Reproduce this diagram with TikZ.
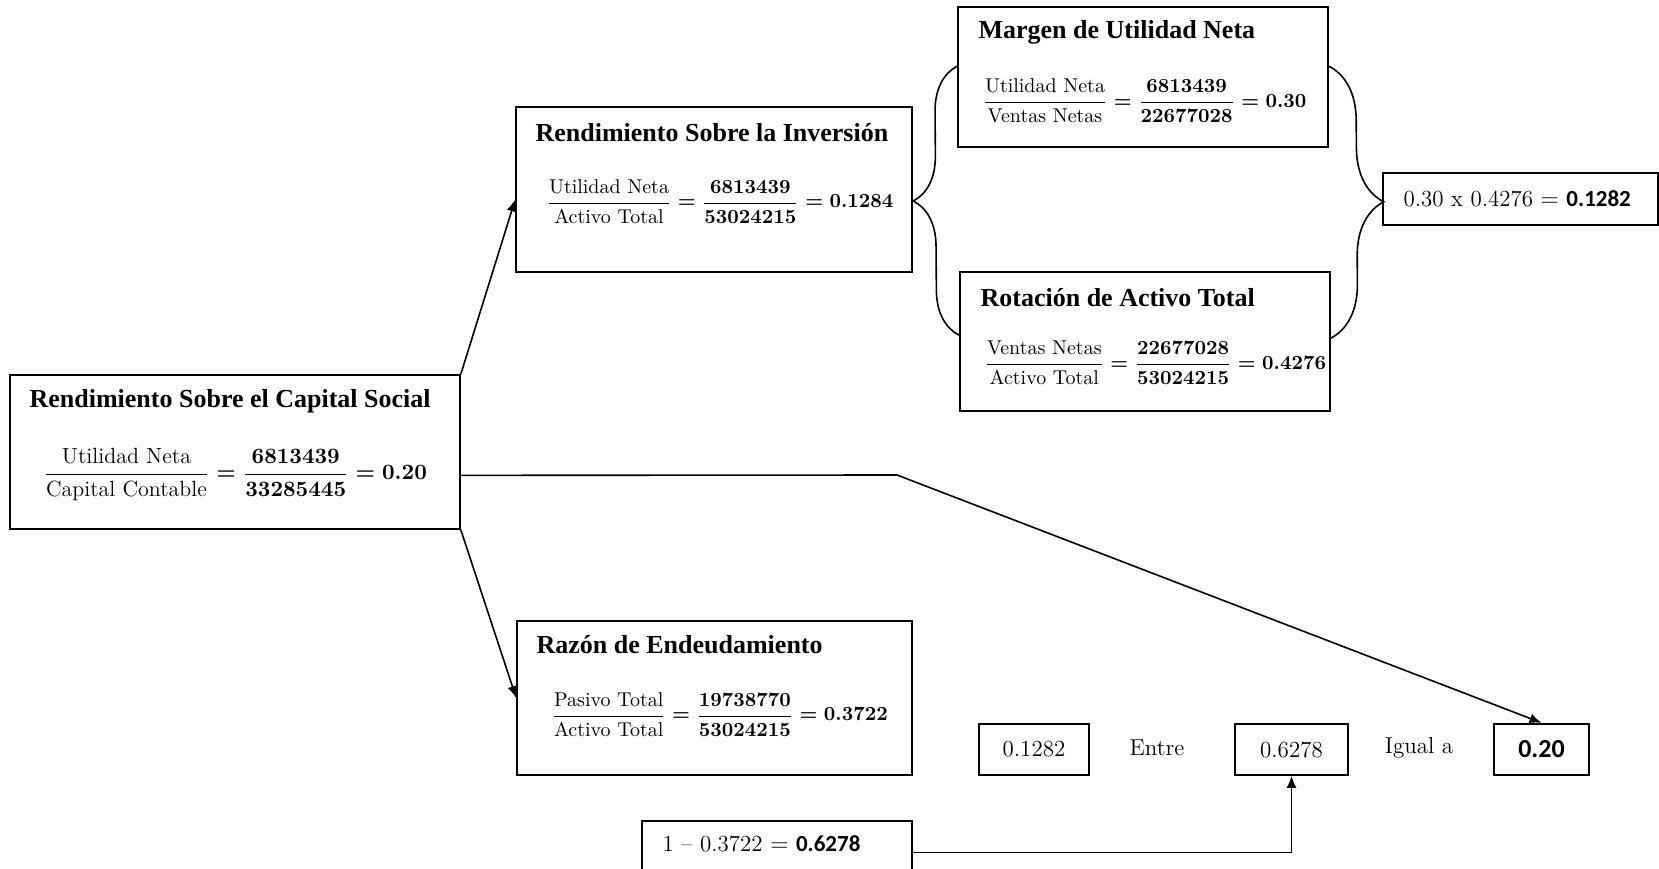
\documentclass[tikz,border=0pt]{standalone}
\usepackage{amsmath}
\usepackage{fontspec}
\newfontfamily\titlefont{Liberation Serif}
\newfontfamily\numfont{Carlito}
\usetikzlibrary{arrows.meta,calc,decorations.pathreplacing}

\begin{document}
\begin{tikzpicture}[x=0.5pt,y=-0.5pt]
\tikzstyle{every node}=[inner sep=0pt]
\tikzstyle{caja}=[draw, rectangle, line width=0.8pt]
\tikzstyle{titulo}=[anchor=west, font=\titlefont\bfseries\fontsize{13}{15}\selectfont]
\tikzstyle{formula}=[anchor=west, font=\boldmath\fontsize{10}{12}\selectfont]
\tikzstyle{texto}=[font=\fontsize{11.5}{14}\selectfont]
\tikzstyle{flecha}=[-{Latex[length=6pt,width=5pt]}, line width=0.8pt]
\useasboundingbox (0,0) rectangle (1659,868);
\clip (0,0) rectangle (1659,868);
% cajas de las razones
\draw (235,452) node (rcs) [caja, minimum width=225pt, minimum height=77pt] {};
\draw (714,189.5) node (rsi) [caja, minimum width=198pt, minimum height=82.5pt] {};
\draw (1143,77) node (mun) [caja, minimum width=185pt, minimum height=70pt] {};
\draw (1145,341.5) node (rat) [caja, minimum width=185pt, minimum height=69.5pt] {};
\draw (714.5,698) node (ren) [caja, minimum width=197.5pt, minimum height=77pt] {};
\draw (1520.5,199) node (prod) [caja, minimum width=137.5pt, minimum height=26pt] {};
\draw (777,852.5) node (resta) [caja, minimum width=135pt, minimum height=31.5pt] {};
% titulos y formulas
\draw (rcs.north west) ++(20,27) node (t1) [titulo] {Rendimiento Sobre el Capital Social};
\draw (rcs.north west) ++(34,100) node (f1) [formula, font=\boldmath\fontsize{11}{13}\selectfont]
  {$\dfrac{\text{Utilidad Neta}}{\text{Capital Contable}}=\dfrac{6813439}{33285445}=0.20$};
\draw (rsi.north west) ++(20,26) node (t2) [titulo] {Rendimiento Sobre la Inversión};
\draw (rsi.north west) ++(31,95) node (f2) [formula]
  {$\dfrac{\text{Utilidad Neta}}{\text{Activo Total}}=\dfrac{6813439}{53024215}=0.1284$};
\draw (mun.north west) ++(21,26) node (t3) [titulo] {Margen de Utilidad Neta};
\draw (mun.north west) ++(25,95) node (f3) [formula]
  {$\dfrac{\text{Utilidad Neta}}{\text{Ventas Netas}}=\dfrac{6813439}{22677028}=0.30$};
\draw (rat.north west) ++(21,26) node (t4) [titulo] {Rotación de Activo Total};
\draw (rat.north west) ++(25,92) node (f4) [formula]
  {$\dfrac{\text{Ventas Netas}}{\text{Activo Total}}=\dfrac{22677028}{53024215}=0.4276$};
\draw (ren.north west) ++(20,24) node (t5) [titulo] {Razón de Endeudamiento};
\draw (ren.north west) ++(35,94) node (f5) [formula]
  {$\dfrac{\text{Pasivo Total}}{\text{Activo Total}}=\dfrac{19738770}{53024215}=0.3722$};
\draw (prod.west) ++(21,0) node (tp) [texto, anchor=west]
  {0.30 x 0.4276 $=$ {\numfont\bfseries 0.1282}};
\draw (resta.north west) ++(21,24) node (tr) [texto, anchor=west]
  {1 -- 0.3722 $=$ {\numfont\bfseries 0.6278}};
% fila final
\draw (1034,749.5) node (n1) [caja, minimum width=55pt, minimum height=25.5pt, texto] {0.1282};
\draw (1157,748) node (entre) [texto] {Entre};
\draw (1291.5,749.5) node (n2) [caja, minimum width=56.5pt, minimum height=25.5pt, texto] {0.6278};
\draw (1419,748) node (igual) [texto] {Igual a};
\draw (1541.5,749.5) node (n3) [caja, line width=1.2pt, minimum width=47.5pt, minimum height=25.5pt,
  font=\numfont\bfseries\fontsize{13}{15}\selectfont] {0.20};
% conectores
\coordinate (quiebre) at (897,475);
\draw[flecha] (rcs.north east) -- ($(rsi.north west)!0.56!(rsi.south west)$);
\draw[flecha] (rcs.south east) -- (ren.west);
\draw[flecha] ($(rcs.north east)!0.65!(rcs.south east)$) -- (quiebre) -- (n3.north);
\draw[flecha] (resta.east) -| (n2.south);
\draw[decorate, decoration={brace, amplitude=22.5pt}, line width=0.8pt]
  ($(rat.north west)+(0,64)$) -- ($(mun.north west)+(0,60)$);
\draw[decorate, decoration={brace, amplitude=27pt}, line width=0.8pt]
  ($(mun.north east)+(0,60)$) -- ($(rat.north east)+(0,67)$);
\end{tikzpicture}
\end{document}
